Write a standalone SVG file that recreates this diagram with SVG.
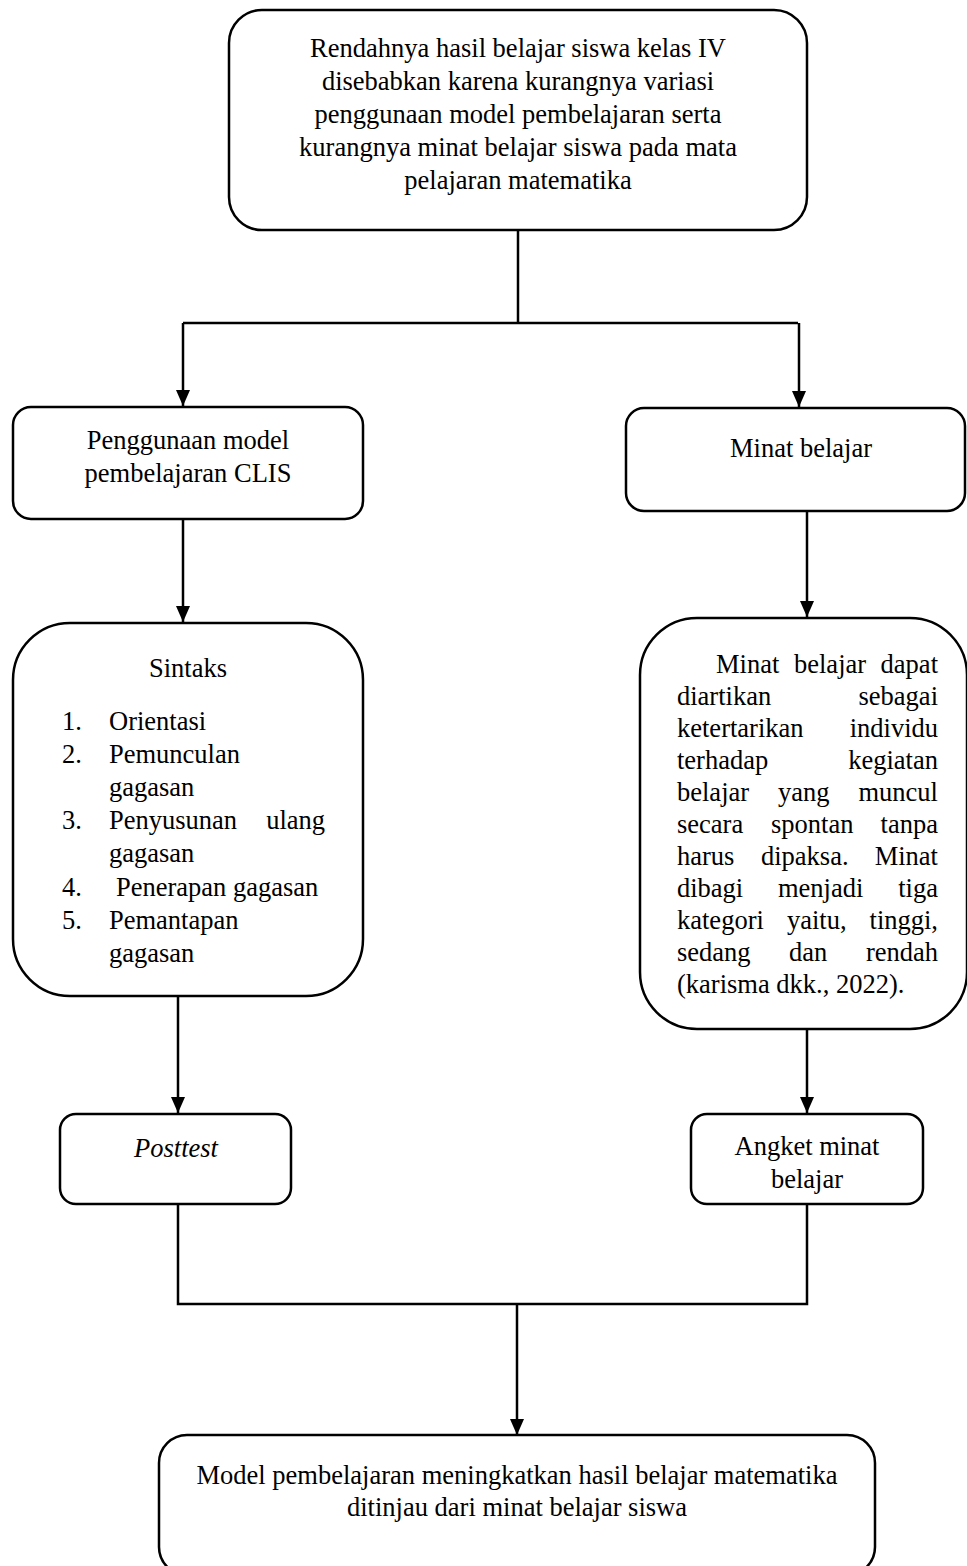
<svg xmlns="http://www.w3.org/2000/svg" width="967" height="1566" viewBox="0 0 967 1566">
<style>
.box{fill:#fff;stroke:#000;stroke-width:2.5}
.t{font-family:"Liberation Serif","Times New Roman",serif;font-size:26.5px;fill:#000}
.c{text-anchor:middle}
.e{text-anchor:end}
.conn{fill:none;stroke:#000;stroke-width:2.5}
</style>
<defs>
<marker id="ah" viewBox="0 0 14 16" refX="7" refY="16" markerWidth="14" markerHeight="16" markerUnits="userSpaceOnUse" orient="0">
<path d="M0,0 L14,0 L7,16 Z" fill="#000"/>
</marker>
</defs>
<rect width="967" height="1566" fill="#fff"/>
<g id="connectors">
<polyline class="conn" points="518,230 518,323"/>
<polyline class="conn" points="183,323 798,323"/>
<line class="conn" x1="183" y1="323" x2="183" y2="406" marker-end="url(#ah)"/>
<line class="conn" x1="799" y1="323" x2="799" y2="407" marker-end="url(#ah)"/>
<line class="conn" x1="183" y1="519" x2="183" y2="622" marker-end="url(#ah)"/>
<line class="conn" x1="807" y1="511" x2="807" y2="617" marker-end="url(#ah)"/>
<line class="conn" x1="178" y1="996" x2="178" y2="1113" marker-end="url(#ah)"/>
<line class="conn" x1="807" y1="1029" x2="807" y2="1113" marker-end="url(#ah)"/>
<polyline class="conn" points="178,1204 178,1304 807,1304 807,1204"/>
<line class="conn" x1="517" y1="1304" x2="517" y2="1435" marker-end="url(#ah)"/>
</g>
<g id="node-problem">
<rect class="box" x="229" y="10" width="578" height="220" rx="33" ry="33"/>
<text class="t c" x="518" y="57">Rendahnya hasil belajar siswa kelas IV</text>
<text class="t c" x="518" y="90">disebabkan karena kurangnya variasi</text>
<text class="t c" x="518" y="123">penggunaan model pembelajaran serta</text>
<text class="t c" x="518" y="156">kurangnya minat belajar siswa pada mata</text>
<text class="t c" x="518" y="189">pelajaran matematika</text>
</g>
<g id="node-clis">
<rect class="box" x="13" y="407" width="350" height="112" rx="18" ry="18"/>
<text class="t c" x="188" y="449">Penggunaan model</text>
<text class="t c" x="188" y="482">pembelajaran CLIS</text>
</g>
<g id="node-minat">
<rect class="box" x="626" y="408" width="339" height="103" rx="18" ry="18"/>
<text class="t c" x="801" y="457">Minat belajar</text>
</g>
<g id="node-sintaks">
<rect class="box" x="13" y="623" width="350" height="373" rx="57" ry="57"/>
<text class="t c" x="188" y="677">Sintaks</text>
<text class="t" x="62" y="730">1.</text><text class="t" x="109" y="730">Orientasi</text>
<text class="t" x="62" y="763">2.</text><text class="t" x="109" y="763">Pemunculan</text>
<text class="t" x="109" y="796">gagasan</text>
<text class="t" x="62" y="829">3.</text><text class="t" x="109" y="829">Penyusunan</text><text class="t e" x="325" y="829">ulang</text>
<text class="t" x="109" y="862">gagasan</text>
<text class="t" x="62" y="896">4.</text><text class="t" x="116" y="896">Penerapan gagasan</text>
<text class="t" x="62" y="929">5.</text><text class="t" x="109" y="929">Pemantapan</text>
<text class="t" x="109" y="962">gagasan</text>
</g>
<g id="node-definisi">
<rect class="box" x="640" y="618" width="327" height="411" rx="57" ry="57"/>
<text class="t" x="716" y="673">Minat</text><text class="t" x="794" y="673">belajar</text><text class="t e" x="938" y="673">dapat</text>
<text class="t" x="677" y="705">diartikan</text><text class="t e" x="938" y="705">sebagai</text>
<text class="t" x="677" y="737">ketertarikan</text><text class="t e" x="938" y="737">individu</text>
<text class="t" x="677" y="769">terhadap</text><text class="t e" x="938" y="769">kegiatan</text>
<text class="t" x="677" y="801">belajar</text><text class="t" x="778" y="801">yang</text><text class="t e" x="938" y="801">muncul</text>
<text class="t" x="677" y="833">secara</text><text class="t" x="771" y="833">spontan</text><text class="t e" x="938" y="833">tanpa</text>
<text class="t" x="677" y="865">harus</text><text class="t" x="761" y="865">dipaksa.</text><text class="t e" x="938" y="865">Minat</text>
<text class="t" x="677" y="897">dibagi</text><text class="t" x="778" y="897">menjadi</text><text class="t e" x="938" y="897">tiga</text>
<text class="t" x="677" y="929">kategori</text><text class="t" x="787" y="929">yaitu,</text><text class="t e" x="938" y="929">tinggi,</text>
<text class="t" x="677" y="961">sedang</text><text class="t" x="789" y="961">dan</text><text class="t e" x="938" y="961">rendah</text>
<text class="t" x="677" y="993">(karisma dkk., 2022).</text>
</g>
<g id="node-posttest">
<rect class="box" x="60" y="1114" width="231" height="90" rx="16" ry="16"/>
<text class="t c" x="176" y="1157" font-style="italic">Posttest</text>
</g>
<g id="node-angket">
<rect class="box" x="691" y="1114" width="232" height="90" rx="16" ry="16"/>
<text class="t c" x="807" y="1155">Angket minat</text>
<text class="t c" x="807" y="1188">belajar</text>
</g>
<g id="node-kesimpulan">
<rect class="box" x="159" y="1435" width="716" height="140" rx="28" ry="28"/>
<text class="t c" x="517" y="1484">Model pembelajaran meningkatkan hasil belajar matematika</text>
<text class="t c" x="517" y="1516">ditinjau dari minat belajar siswa</text>
</g>
</svg>
